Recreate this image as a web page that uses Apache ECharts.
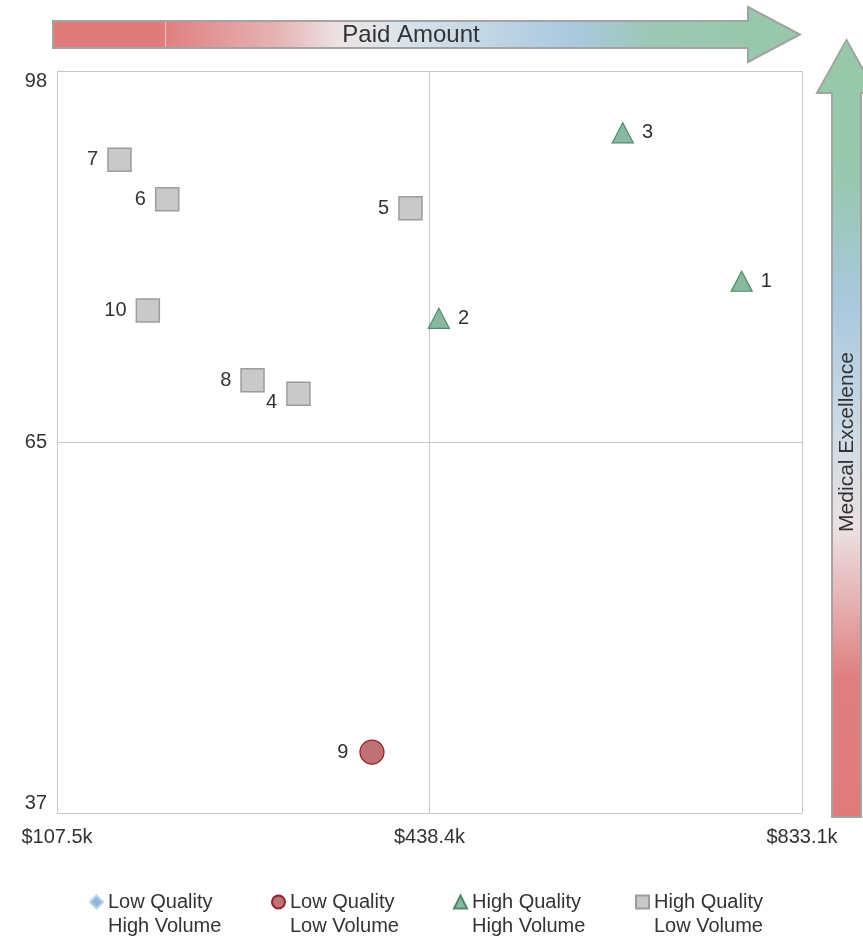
<!DOCTYPE html>
<html>
<head>
<meta charset="utf-8">
<script src="https://cdn.jsdelivr.net/npm/echarts@6/dist/echarts.min.js"></script>
<style>
html, body { margin: 0; padding: 0; background: #fff; }
#main { width: 863px; height: 938px; }
</style>
</head>
<body>
<div id="main"></div>
<script>
// axis break points (min, divider, max)
var xTicks = [107.5, 438.4, 833.1];
var yTicks = [37, 65, 98];

// High Quality / High Volume
var hqhvIds = ['1', '2', '3'];
var hqhvPaid = [769.2, 448.3, 643.2];
var hqhvScore = [79.3, 76.0, 92.5];

// High Quality / Low Volume
var hqlvIds = ['4', '5', '6', '7', '8', '10'];
var hqlvPaid = [322.0, 421.5, 205.4, 163.0, 281.2, 188.2];
var hqlvScore = [69.3, 85.8, 86.6, 90.1, 70.5, 76.7];

// Low Quality / Low Volume
var lqlvIds = ['9'];
var lqlvPaid = [387.3];
var lqlvScore = [41.6];

// Low Quality / High Volume (none)
var lqhvIds = [];
var lqhvPaid = [];
var lqhvScore = [];

var FONT = 'Liberation Sans, Arial, sans-serif';

// each half of an axis is linear between its break points
function piece(v, t) {
    if (v <= t[1]) return (v - t[0]) / (t[1] - t[0]);
    return 1 + (v - t[1]) / (t[2] - t[1]);
}

function build(ids, paid, score) {
    return ids.map(function (id, i) {
        var item = { name: id, value: [piece(paid[i], xTicks), piece(score[i], yTicks)] };
        if (id === '4') item.label = { offset: [0, 9] };
        return item;
    });
}

var myChart = echarts.init(document.getElementById('main'));

option = {
    animation: false,
    textStyle: { fontFamily: FONT },
    grid: { left: 57, right: 61, top: 71, bottom: 125 },
    xAxis: {
        type: 'value', min: 0, max: 2, interval: 1,
        axisLine: { show: true, lineStyle: { color: '#c8c8c8' } },
        axisTick: { show: false },
        splitLine: { lineStyle: { color: '#c8c8c8' } },
        axisLabel: {
            margin: 14, fontSize: 20, color: '#333', fontFamily: FONT,
            formatter: function (v) { return '$' + xTicks[v].toFixed(1) + 'k'; }
        }
    },
    yAxis: {
        type: 'value', min: 0, max: 2, interval: 1,
        axisLine: { show: true, lineStyle: { color: '#c8c8c8' } },
        axisTick: { show: false },
        splitLine: { lineStyle: { color: '#c8c8c8' } },
        axisLabel: {
            margin: 10, fontSize: 20, color: '#333', fontFamily: FONT,
            verticalAlignMinLabel: 'bottom', verticalAlignMaxLabel: 'top',
            formatter: function (v) { return String(yTicks[v]); }
        }
    },
    legend: {
        left: 84, top: 861, itemGap: 6, itemWidth: 13, itemHeight: 13,
        textStyle: { fontSize: 20, color: '#333', lineHeight: 24, width: 157, fontFamily: FONT },
        formatter: function (name) { return ' \n' + name.replace(' | ', '\n'); },
        data: ['Low Quality | High Volume', 'Low Quality | Low Volume',
               'High Quality | High Volume', 'High Quality | Low Volume']
    },
    series: [
        {
            name: 'Low Quality | High Volume', type: 'scatter', symbol: 'diamond', symbolSize: 12,
            itemStyle: { color: '#8db8dc', borderColor: '#b9d2ea', borderWidth: 1, opacity: 1 },
            data: build(lqhvIds, lqhvPaid, lqhvScore)
        },
        {
            name: 'Low Quality | Low Volume', type: 'scatter', symbol: 'circle', symbolSize: 24,
            itemStyle: { color: '#c07173', borderColor: '#8e2226', borderWidth: 1.2, opacity: 1 },
            label: { show: true, position: 'left', distance: 11, formatter: '{b}', fontSize: 20, color: '#333', fontFamily: FONT },
            data: build(lqlvIds, lqlvPaid, lqlvScore)
        },
        {
            name: 'High Quality | High Volume', type: 'scatter', symbol: 'triangle', symbolSize: [21, 20],
            itemStyle: { color: '#88b89e', borderColor: '#4f8a6a', borderWidth: 1.2, opacity: 1 },
            label: { show: true, position: 'right', distance: 8, formatter: '{b}', fontSize: 20, color: '#333', fontFamily: FONT },
            data: build(hqhvIds, hqhvPaid, hqhvScore)
        },
        {
            name: 'High Quality | Low Volume', type: 'scatter', symbol: 'rect', symbolSize: 23,
            itemStyle: { color: '#c9c9c9', borderColor: '#9c9c9c', borderWidth: 1.5, opacity: 1 },
            label: { show: true, position: 'left', distance: 9, formatter: '{b}', fontSize: 20, color: '#333', fontFamily: FONT },
            data: build(hqlvIds, hqlvPaid, hqlvScore)
        }
    ],
    graphic: [
        {
            type: 'polygon', silent: true,
            shape: { points: [[53, 21], [748, 21], [748, 7], [800, 34.5], [748, 62], [748, 48], [53, 48]] },
            style: {
                stroke: '#a3a3a3', lineWidth: 2,
                fill: new echarts.graphic.LinearGradient(0, 0, 1, 0, [
                    { offset: 0, color: '#e07b7b' },
                    { offset: 0.15, color: '#df7f80' },
                    { offset: 0.30, color: '#e6b3b4' },
                    { offset: 0.385, color: '#ede3e4' },
                    { offset: 0.45, color: '#dde5eb' },
                    { offset: 0.70, color: '#a9c8df' },
                    { offset: 0.80, color: '#9dc8b6' },
                    { offset: 1, color: '#96c8a8' }
                ])
            }
        },
        {
            type: 'rect', silent: true,
            shape: { x: 54, y: 22, width: 111, height: 25 },
            style: { fill: '#e07b7b' }
        },
        {
            type: 'line', silent: true,
            shape: { x1: 165.5, y1: 22, x2: 165.5, y2: 47 },
            style: { stroke: '#ecc4c4', lineWidth: 1 }
        },
        {
            type: 'text', silent: true, x: 411, y: 35,
            style: { text: 'Paid Amount', fontSize: 24, fontFamily: FONT, fill: '#333',
                     align: 'center', verticalAlign: 'middle' }
        },
        {
            type: 'polygon', silent: true,
            shape: { points: [[832, 817], [832, 93], [817, 93], [846.5, 40], [876, 93], [861, 93], [861, 817]] },
            style: {
                stroke: '#a3a3a3', lineWidth: 2,
                fill: new echarts.graphic.LinearGradient(0, 0, 0, 1, [
                    { offset: 0, color: '#96c8a8' },
                    { offset: 0.17, color: '#97c8ad' },
                    { offset: 0.34, color: '#a9c8df' },
                    { offset: 0.51, color: '#cfdbe5' },
                    { offset: 0.63, color: '#ece0e1' },
                    { offset: 0.82, color: '#df7f80' },
                    { offset: 1, color: '#e07b7b' }
                ])
            }
        },
        {
            type: 'text', silent: true, x: 847, y: 442, rotation: Math.PI / 2,
            style: { text: 'Medical Excellence', fontSize: 21, fontFamily: FONT, fill: '#333',
                     align: 'center', verticalAlign: 'middle' }
        }
    ]
};
myChart.setOption(option);
</script>
</body>
</html>
